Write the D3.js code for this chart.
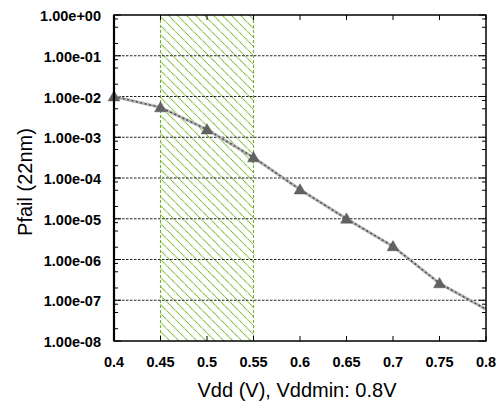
<!DOCTYPE html>
<html>
<head>
<meta charset="utf-8">
<script src="https://cdn.jsdelivr.net/npm/d3@7"></script>
<style>
  html, body { margin: 0; padding: 0; background: #fff; }
  svg { display: block; }
  text { font-family: "Liberation Sans", Arial, Helvetica, sans-serif; fill: #000; }
</style>
</head>
<body>
<svg id="chart" width="498" height="402"></svg>
<script>
// Supply voltage sweep and failure probability at 22nm
const vdd = [0.4, 0.45, 0.5, 0.55, 0.6, 0.65, 0.7, 0.75, 0.8];
const pfail = [1.0e-2, 5.4e-3, 1.55e-3, 3.2e-4, 5.2e-5, 1.0e-5, 2.1e-6, 2.6e-7, 6.0e-8];
// Points that carry a triangle marker
const markedVdd = [0.4, 0.45, 0.5, 0.55, 0.6, 0.65, 0.7, 0.75];

// Shaded operating window
const windowRange = [0.45, 0.55];

const xTicks = [0.4, 0.45, 0.5, 0.55, 0.6, 0.65, 0.7, 0.75, 0.8];
const xTickLabels = ["0.4", "0.45", "0.5", "0.55", "0.6", "0.65", "0.7", "0.75", "0.8"];
const yTicks = [1e0, 1e-1, 1e-2, 1e-3, 1e-4, 1e-5, 1e-6, 1e-7, 1e-8];
const yTickLabels = ["1.00e+00", "1.00e-01", "1.00e-02", "1.00e-03", "1.00e-04",
                     "1.00e-05", "1.00e-06", "1.00e-07", "1.00e-08"];
const xLabel = "Vdd (V), Vddmin: 0.8V";
const yLabel = "Pfail (22nm)";

const svg = d3.select("#chart");
const pL = 114, pR = 486, pT = 15, pB = 341;

const x = d3.scaleLinear().domain([0.4, 0.8]).range([pL, pR]);
const y = d3.scaleLog().domain([1e-8, 1]).range([pB, pT]);

// Hatch pattern for the voltage window
const defs = svg.append("defs");
const green = "#6fb62a";
const step = 9;
const pat = defs.append("pattern")
  .attr("id", "hatch")
  .attr("patternUnits", "userSpaceOnUse")
  .attr("width", step).attr("height", step);
pat.append("path")
  .attr("d", `M0,0 L${step},${step} M-1,${step - 1} L1,${step + 1} M${step - 1},-1 L${step + 1},1`)
  .attr("stroke", green).attr("stroke-width", 1.1)
  .attr("stroke-dasharray", "1.2,0.5");

svg.append("rect")
  .attr("x", x(windowRange[0])).attr("y", pT)
  .attr("width", x(windowRange[1]) - x(windowRange[0]))
  .attr("height", pB - pT)
  .attr("fill", "url(#hatch)");

svg.selectAll("line.win").data(windowRange).enter().append("line")
  .attr("class", "win")
  .attr("x1", d => x(d)).attr("x2", d => x(d))
  .attr("y1", pT).attr("y2", pB)
  .attr("stroke", green).attr("stroke-width", 1.1)
  .attr("stroke-dasharray", "3,2");

// Horizontal grid at each decade
svg.selectAll("line.grid").data(yTicks.slice(1, -1)).enter().append("line")
  .attr("class", "grid")
  .attr("x1", pL).attr("x2", pR)
  .attr("y1", d => y(d)).attr("y2", d => y(d))
  .attr("stroke", "#222").attr("stroke-width", 1)
  .attr("stroke-dasharray", "2.5,1.5");

// Minor ticks (2, 5, 8 within each decade) on left and right edges
const minor = [];
for (let e = -8; e < 0; e++) {
  [2, 5, 8].forEach(m => minor.push(m * Math.pow(10, e)));
}
const tickG = svg.append("g").attr("stroke", "#000").attr("stroke-width", 1);
minor.forEach(v => {
  tickG.append("line").attr("x1", pL).attr("x2", pL + 4).attr("y1", y(v)).attr("y2", y(v));
  tickG.append("line").attr("x1", pR).attr("x2", pR - 4).attr("y1", y(v)).attr("y2", y(v));
});
yTicks.forEach(v => {
  tickG.append("line").attr("x1", pL).attr("x2", pL + 7).attr("y1", y(v)).attr("y2", y(v));
  tickG.append("line").attr("x1", pR).attr("x2", pR - 7).attr("y1", y(v)).attr("y2", y(v));
});
xTicks.forEach(v => {
  tickG.append("line").attr("x1", x(v)).attr("x2", x(v)).attr("y1", pB).attr("y2", pB - 5);
  tickG.append("line").attr("x1", x(v)).attr("x2", x(v)).attr("y1", pT).attr("y2", pT + 5);
});

// Data curve: light underlay with a dark dotted overlay
const line = d3.line().x((d, i) => x(vdd[i])).y(d => y(d));
svg.append("path").datum(pfail)
  .attr("d", line).attr("fill", "none")
  .attr("stroke", "#b4b4b4").attr("stroke-width", 3);
svg.append("path").datum(pfail)
  .attr("d", line).attr("fill", "none")
  .attr("stroke", "#555").attr("stroke-width", 1.6)
  .attr("stroke-dasharray", "2,2.5");

// Triangle markers
const tri = d3.symbol().type(d3.symbolTriangle).size(60);
svg.selectAll("path.mk").data(markedVdd).enter().append("path")
  .attr("class", "mk")
  .attr("d", tri)
  .attr("transform", d => `translate(${x(d)},${y(pfail[vdd.indexOf(d)]) + 1})`)
  .attr("fill", "#626262").attr("stroke", "#555").attr("stroke-width", 0.5);

// Frame
svg.append("rect")
  .attr("x", pL).attr("y", pT)
  .attr("width", pR - pL).attr("height", pB - pT)
  .attr("fill", "none").attr("stroke", "#000").attr("stroke-width", 1.5);
svg.append("line").attr("x1", pL).attr("x2", pL).attr("y1", pT).attr("y2", pB)
  .attr("stroke", "#000").attr("stroke-width", 2.2);

// Tick labels
svg.selectAll("text.yt").data(yTicks).enter().append("text")
  .attr("class", "yt")
  .attr("x", 101).attr("y", d => y(d)).attr("dy", "0.42em")
  .attr("text-anchor", "end")
  .style("font-size", "14.5px").style("font-weight", "bold")
  .text((d, i) => yTickLabels[i]);

svg.selectAll("text.xt").data(xTicks).enter().append("text")
  .attr("class", "xt")
  .attr("x", d => x(d)).attr("y", 367)
  .attr("text-anchor", "middle")
  .style("font-size", "14.5px").style("font-weight", "bold")
  .text((d, i) => xTickLabels[i]);

// Axis titles
svg.append("text")
  .attr("x", 297).attr("y", 397)
  .attr("text-anchor", "middle")
  .style("font-size", "20px")
  .text(xLabel);

svg.append("text")
  .attr("transform", "translate(32,182) rotate(-90)")
  .attr("text-anchor", "middle")
  .style("font-size", "20px")
  .text(yLabel);
</script>
</body>
</html>
